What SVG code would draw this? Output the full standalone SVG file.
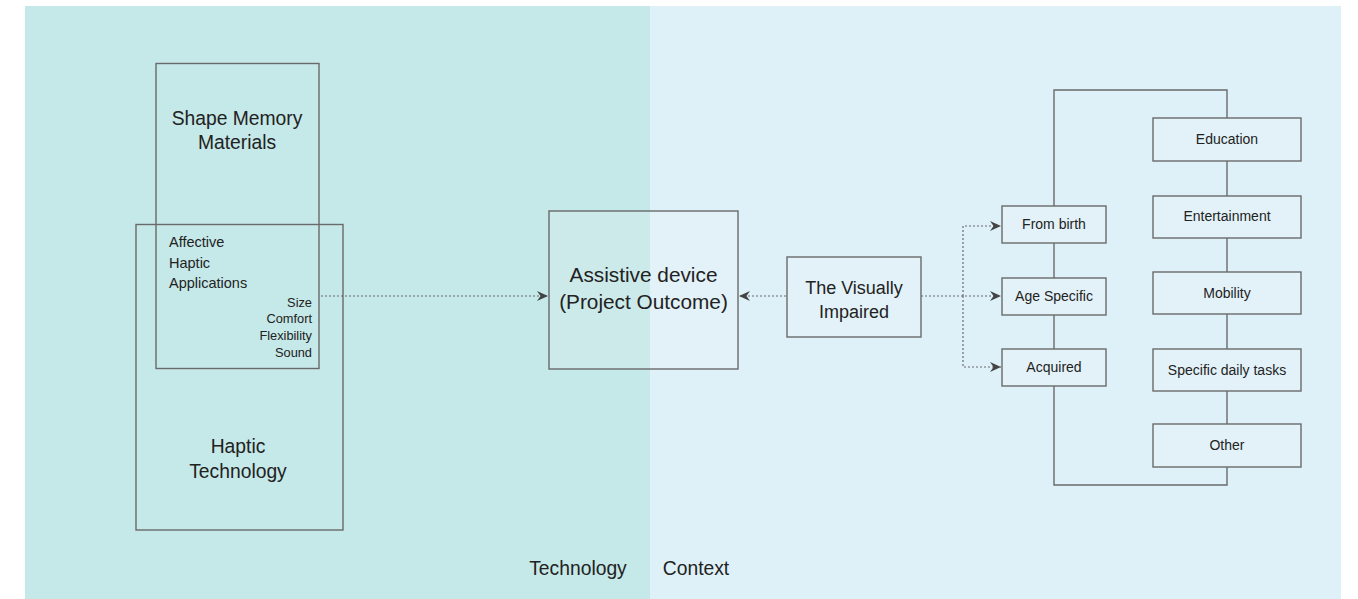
<svg xmlns="http://www.w3.org/2000/svg" width="1358" height="599" viewBox="0 0 1358 599">
<style>
.box{fill:#ffffff;fill-opacity:0.12;stroke:#6a6a6a;stroke-width:1.4}
.frame{fill:none;stroke:#6a6a6a;stroke-width:1.4}
.dot{fill:none;stroke:#6a6a6a;stroke-width:1.2;stroke-dasharray:2 2}
text{font-family:"Liberation Sans",Arial,sans-serif;fill:#222}
.big{font-size:18px}
.h19{font-size:19.3px}
.h20{font-size:20.8px}
.mid{font-size:14.5px}
.sm{font-size:14px}
.xs{font-size:12.8px}
</style>
<defs>
<marker id="ah" markerWidth="12" markerHeight="11" refX="11" refY="5.5" orient="auto" markerUnits="userSpaceOnUse">
<path d="M0,0.5 L11,5.5 L0,10.5 L3.5,5.5 Z" fill="#444"/>
</marker>
</defs>
<rect x="25" y="6" width="625" height="593" fill="#c5e8e8"/>
<rect x="650" y="6" width="691" height="593" fill="#dff1f8"/>

<g id="haptic-technology">
<rect class="frame" x="136" y="224.5" width="207" height="305.5"/>
<text class="h19" x="238" y="453" text-anchor="middle">Haptic</text>
<text class="h19" x="238" y="478" text-anchor="middle">Technology</text>
</g>
<g id="shape-memory">
<rect class="frame" x="156" y="63.5" width="163" height="305"/>
<text class="h19" x="237" y="125" text-anchor="middle">Shape Memory</text>
<text class="h19" x="237" y="149" text-anchor="middle">Materials</text>
</g>
<g id="affective">
<text class="mid" x="169" y="247">Affective</text>
<text class="mid" x="169" y="268">Haptic</text>
<text class="mid" x="169" y="288">Applications</text>
<text class="xs" x="312" y="307" text-anchor="end">Size</text>
<text class="xs" x="312" y="323" text-anchor="end">Comfort</text>
<text class="xs" x="312" y="340" text-anchor="end">Flexibility</text>
<text class="xs" x="312" y="357" text-anchor="end">Sound</text>
</g>

<g id="assistive">
<rect class="box" x="549" y="211" width="189" height="158"/>
<text class="h20" x="643.5" y="282" text-anchor="middle">Assistive device</text>
<text class="h20" x="643.5" y="309" text-anchor="middle">(Project Outcome)</text>
</g>
<g id="visually-impaired">
<rect class="box" x="787" y="257" width="134" height="80"/>
<text class="big" x="854" y="294" text-anchor="middle">The Visually</text>
<text class="big" x="854" y="318" text-anchor="middle">Impaired</text>
</g>

<g id="connectors">
<line class="dot" x1="321" y1="296" x2="548" y2="296" marker-end="url(#ah)"/>
<line class="dot" x1="786" y1="296" x2="739" y2="296" marker-end="url(#ah)"/>
<line class="dot" x1="921" y1="296" x2="1001" y2="296" marker-end="url(#ah)"/>
<polyline class="dot" points="963,296 963,226 1001,226" marker-end="url(#ah)"/>
<polyline class="dot" points="963,296 963,367 1001,367" marker-end="url(#ah)"/>
<polyline class="frame" points="1227,118 1227,90 1054,90 1054,206"/>
<line class="frame" x1="1054" y1="243" x2="1054" y2="278"/>
<line class="frame" x1="1054" y1="315" x2="1054" y2="349"/>
<polyline class="frame" points="1054,386 1054,485 1227,485 1227,467"/>
<line class="frame" x1="1227" y1="161" x2="1227" y2="196"/>
<line class="frame" x1="1227" y1="238" x2="1227" y2="272"/>
<line class="frame" x1="1227" y1="314" x2="1227" y2="349"/>
<line class="frame" x1="1227" y1="391" x2="1227" y2="424"/>
</g>

<g id="from-birth">
<rect class="box" x="1002" y="206" width="104" height="37"/>
<text class="sm" x="1054" y="229" text-anchor="middle">From birth</text>
</g>
<g id="age-specific">
<rect class="box" x="1002" y="278" width="104" height="37"/>
<text class="sm" x="1054" y="301" text-anchor="middle">Age Specific</text>
</g>
<g id="acquired">
<rect class="box" x="1002" y="349" width="104" height="37"/>
<text class="sm" x="1054" y="372" text-anchor="middle">Acquired</text>
</g>

<g id="education">
<rect class="box" x="1153" y="118" width="148" height="43"/>
<text class="sm" x="1227" y="144" text-anchor="middle">Education</text>
</g>
<g id="entertainment">
<rect class="box" x="1153" y="196" width="148" height="42"/>
<text class="sm" x="1227" y="221" text-anchor="middle">Entertainment</text>
</g>
<g id="mobility">
<rect class="box" x="1153" y="272" width="148" height="42"/>
<text class="sm" x="1227" y="298" text-anchor="middle">Mobility</text>
</g>
<g id="daily-tasks">
<rect class="box" x="1153" y="349" width="148" height="42"/>
<text class="sm" x="1227" y="375" text-anchor="middle">Specific daily tasks</text>
</g>
<g id="other">
<rect class="box" x="1153" y="424" width="148" height="43"/>
<text class="sm" x="1227" y="450" text-anchor="middle">Other</text>
</g>

<g id="labels">
<text class="h19" x="578" y="575" text-anchor="middle">Technology</text>
<text class="h19" x="696" y="575" text-anchor="middle">Context</text>
</g>
</svg>
